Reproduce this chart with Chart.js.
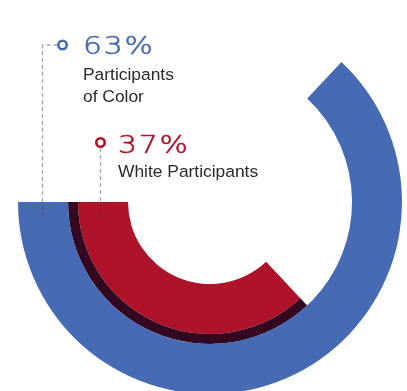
<!DOCTYPE html>
<html>
<head>
<meta charset="utf-8">
<script src="https://cdn.jsdelivr.net/npm/chart.js@4"></script>
<style>
  html, body { margin:0; padding:0; background:#fff; overflow:hidden; }
  body { width:407px; height:391px; position:relative; }
  #wrap { position:absolute; left:18px; top:10px; width:384px; height:384px; }
  .pct { position:absolute; font-family:"DejaVu Sans", sans-serif; font-weight:200; font-size:24px; line-height:24px; letter-spacing:1.5px; white-space:nowrap; -webkit-text-stroke:0.6px; transform:scaleX(1.24); transform-origin:left top; }
  .lbl { position:absolute; font-family:"Liberation Sans", Arial, sans-serif; font-size:17.4px; line-height:22px; color:#2a2a2a; white-space:nowrap; }
</style>
</head>
<body>
<div id="wrap"><canvas id="donut" width="384" height="384"></canvas></div>
<div class="pct" id="pct0" style="left:83px; top:34px; color:#4669b3;"></div>
<div class="lbl" id="lbl0" style="left:83px; top:63px; width:120px; white-space:normal;"></div>
<div class="pct" id="pct1" style="left:118px; top:133px; color:#ae152b;"></div>
<div class="lbl" id="lbl1" style="left:118px; top:160px;"></div>
<script>
// data
let groups = ["Participants of Color", "White Participants"];
let shares = [63, 37];
let groupColors = ["#466bb4", "#ae1329"];
let shadowColor = "#330820";

$ = function(id){ return document.getElementById(id); };
$("pct0").textContent = shares[0] + "%";
$("lbl0").innerHTML = "Participants<br>of Color";
$("pct1").textContent = shares[1] + "%";
$("lbl1").textContent = groups[1];

// leader lines + small rings, drawn over the arcs
let leaders = {
    id:"leaders",
    afterDatasetsDraw:function(chart){
        let ctx = chart.ctx;
        let ox = -18, oy = -10;
        ctx.save();
        ctx.setLineDash([4, 3]);
        ctx.lineWidth = 1.3;
        ctx.strokeStyle = "rgba(60,60,60,0.45)";
        ctx.beginPath();
        ctx.moveTo(57.5 + ox, 45 + oy);
        ctx.lineTo(42.5 + ox, 45 + oy);
        ctx.lineTo(42.5 + ox, 218 + oy);
        ctx.moveTo(100.5 + ox, 148 + oy);
        ctx.lineTo(100.5 + ox, 218 + oy);
        ctx.stroke();
        ctx.setLineDash([]);
        ctx.lineWidth = 2.6;
        let rings = [[62.5, 45, groupColors[0]], [100.5, 142.5, groupColors[1]]];
        for(let i=0; i<rings.length; i++){
            ctx.beginPath();
            ctx.arc(rings[i][0] + ox, rings[i][1] + oy, 4.2, 0, Math.PI*2);
            ctx.fillStyle = "#fff";
            ctx.fill();
            ctx.strokeStyle = rings[i][2];
            ctx.stroke();
        }
        ctx.restore();
    }
};

let none = "rgba(0,0,0,0)";
let donut = new Chart($("donut"), {
    type:"doughnut",
    plugins:[leaders],
    options:{
        responsive:false,
        animation:false,
        events:[],
        rotation:270,
        cutout:82,
        layout:{padding:0},
        plugins:{ legend:{display:false}, tooltip:{enabled:false} },
        elements:{ arc:{ borderWidth:0 } }
    },
    data:{
        labels:["rest", groups[0]],
        datasets:[
            {
                label:groups[0],
                data:[shares[1], shares[0]],
                backgroundColor:[none, groupColors[0]],
                weight:50
            },
            {
                label:"shadow",
                data:[shares[0], shares[1]],
                backgroundColor:[none, shadowColor],
                weight:10
            },
            {
                label:groups[1],
                data:[shares[0], shares[1]],
                backgroundColor:[none, groupColors[1]],
                weight:50
            }
        ]
    }
});
</script>
</body>
</html>
